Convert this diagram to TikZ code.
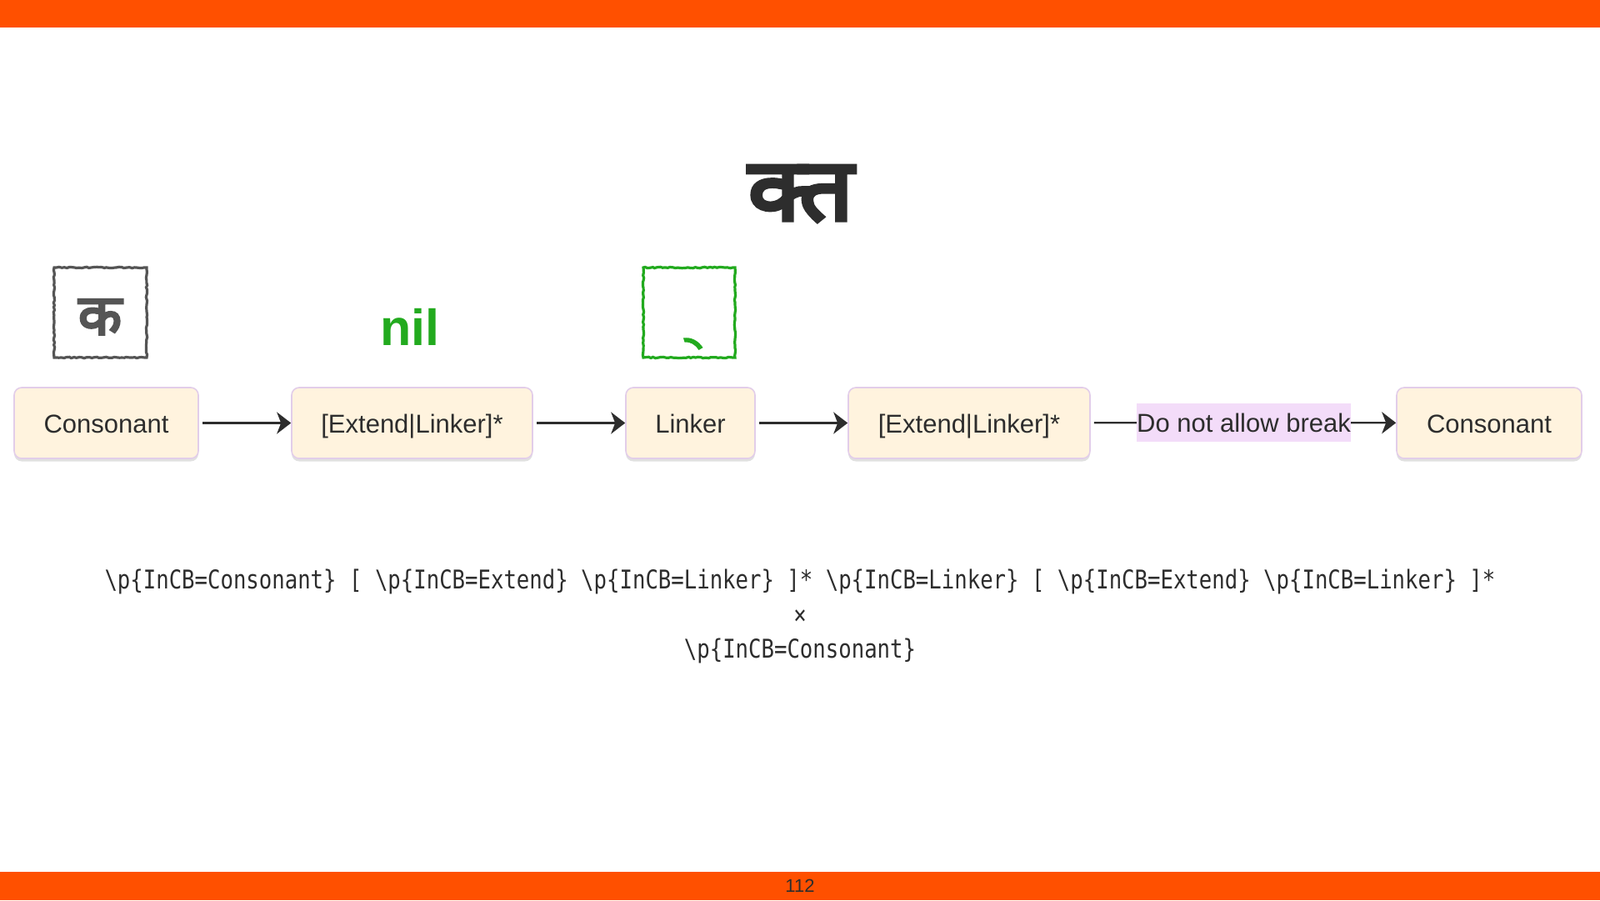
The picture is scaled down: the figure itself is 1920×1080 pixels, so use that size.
\documentclass[tikz,border=0pt]{standalone}
\usepackage{fontspec}
\setmainfont{Liberation Sans}
\newfontfamily\deva[Script=Devanagari,FakeBold=4]{Noto Sans}
\newfontfamily\devatitle[Script=Devanagari,FakeBold=5,FakeStretch=1.1]{Noto Sans}
\newfontfamily\codefont[FakeStretch=0.828]{DejaVu Sans Mono}
\usetikzlibrary{arrows.meta,shadows,decorations.pathmorphing}
\definecolor{barorange}{HTML}{FF5000}
\definecolor{boxfill}{HTML}{FFF3DE}
\definecolor{boxline}{HTML}{E2CDE9}
\definecolor{lblfill}{HTML}{F3DCF9}
\definecolor{ink}{HTML}{2D2D2D}
\definecolor{glyphgray}{HTML}{555555}
\definecolor{nilgreen}{HTML}{22AA1E}
\tikzset{
  stepbox/.style={draw=boxline, line width=1.6pt, fill=boxfill, rounded corners=9pt,
    minimum height=85pt, inner sep=0pt, text=ink, text height=23.5pt, text depth=0pt,
    font=\fontsize{31}{36}\selectfont,
    drop shadow={shadow xshift=0pt, shadow yshift=-3.5pt, opacity=0.12, fill=black}},
  conn/.style={draw=ink, line width=2.2pt},
  arr/.style={conn, -{Stealth[length=17pt,width=26pt,inset=5pt]}},
  sketchbox/.style={line width=3.2pt, decorate,
    decoration={random steps, segment length=3pt, amplitude=0.7pt}},
  codetext/.style={text=ink, font=\codefont\fontsize{31}{36}\selectfont, inner sep=0pt}
}
\begin{document}
\begin{tikzpicture}[x=1pt,y=-1pt]
\useasboundingbox (0,0) rectangle (1920,1080);
\fill[white] (0,0) rectangle (1920,1080);
% bars
\fill[barorange] (0,0) rectangle (1920,33);
\fill[barorange] (0,1046) rectangle (1920,1080);
\node[text=ink, font=\fontsize{22}{26}\selectfont, inner sep=0pt] (pg) at (960,1063) {112};

% title conjunct
\node[text=ink, font=\devatitle\fontsize{104}{120}\selectfont, inner sep=0pt, anchor=base] (title) at (961,264) {क्त};

% gray box with ka
\draw[glyphgray, sketchbox] (65,321) rectangle (176,429);
\node[text=glyphgray, font=\deva\fontsize{68}{76}\selectfont, inner sep=0pt, anchor=base] (ka) at (120,401.5) {क};

% nil
\node[text=nilgreen, font=\bfseries\fontsize{61}{70}\selectfont, inner sep=0pt, anchor=base] (nil) at (492,414) {nil};

% green box with virama
\draw[nilgreen, sketchbox] (772,321) rectangle (882,429);
\fill[nilgreen] (820,405.5) .. controls (830,404) and (838,409) .. (843.5,417) -- (838.5,420) .. controls (834,413) and (828,410) .. (821.5,410.5) -- cycle;

% flow nodes
\node[stepbox, minimum width=221pt] (c1) at (127.5,507.5) {Consonant};
\node[stepbox, minimum width=289pt] (e1) at (494.5,507.5) {[Extend|Linker]*};
\node[stepbox, minimum width=155pt] (lk) at (828.5,507.5) {Linker};
\node[stepbox, minimum width=290pt] (e2) at (1163,507.5) {[Extend|Linker]*};
\node[fill=lblfill, text=ink, font=\fontsize{31}{36}\selectfont, text height=23.5pt, text depth=0pt, minimum width=257pt, minimum height=46pt, inner sep=0pt] (lbl) at (1492.5,507) {Do not allow break};
\node[stepbox, minimum width=222pt] (c2) at (1787,507.5) {Consonant};

\draw[arr, shorten <=4pt] (c1) -- (e1);
\draw[arr, shorten <=4pt] (e1) -- (lk);
\draw[arr, shorten <=4pt] (lk) -- (e2);
\draw[conn, shorten <=4pt] (e2) -- (lbl);
\draw[arr] (lbl) -- (c2);

% regex
\node[codetext] (re1) at (960,698) {\textbackslash p\{InCB=Consonant\} [ \textbackslash p\{InCB=Extend\} \textbackslash p\{InCB=Linker\} ]* \textbackslash p\{InCB=Linker\} [ \textbackslash p\{InCB=Extend\} \textbackslash p\{InCB=Linker\} ]*};
\node[codetext] (re2) at (960,740) {×};
\node[codetext] (re3) at (960,781) {\textbackslash p\{InCB=Consonant\}};
\end{tikzpicture}
\end{document}
